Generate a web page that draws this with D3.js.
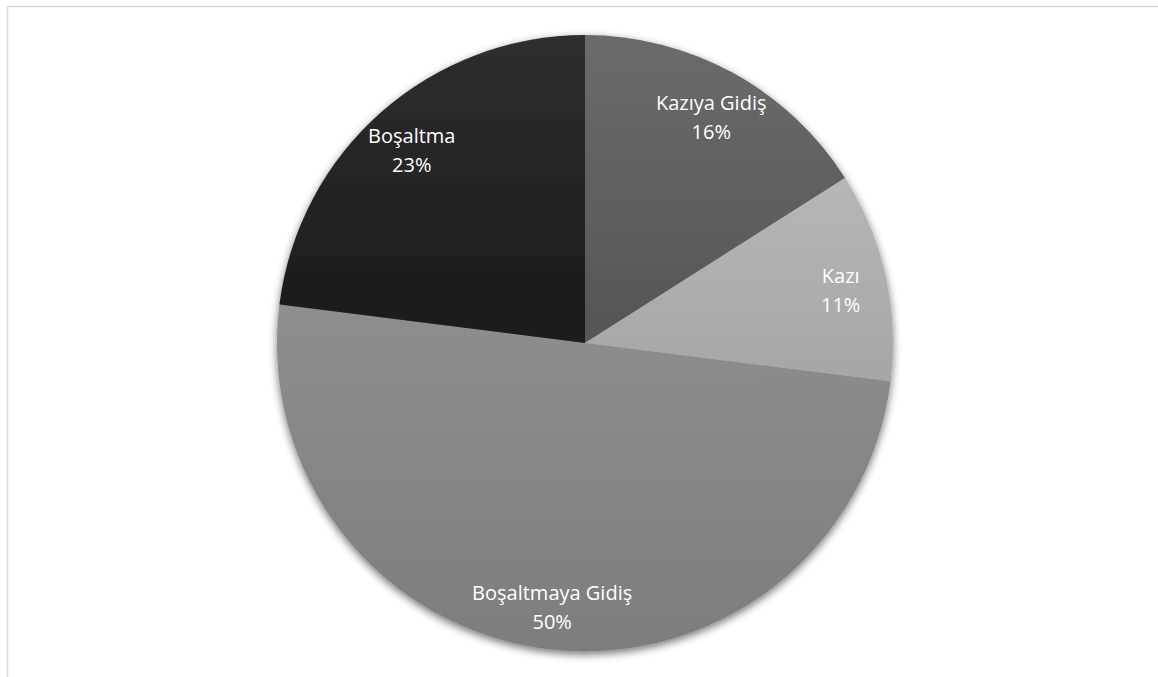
<!DOCTYPE html>
<html>
<head>
<meta charset="utf-8">
<script src="https://cdn.jsdelivr.net/npm/d3@7"></script>
<style>
  html, body { margin: 0; padding: 0; background: #fff; }
  svg { display: block; }
</style>
</head>
<body>
<svg id="chart" width="1158" height="677"></svg>
<script>
// Share of cycle time per operation
const categories = ["Kazıya Gidiş", "Kazı", "Boşaltmaya Gidiş", "Boşaltma"];
const values = [16, 11, 50, 23];
const topColors = ["#6b6b6b", "#b6b6b6", "#8e8e8e", "#2e2e2e"];
const bottomColors = ["#555555", "#a6a6a6", "#7d7d7d", "#1a1a1a"];

const W = 1158, H = 677;
const cx = 585, cy = 343, radius = 308;

const svg = d3.select("#chart");
const defs = svg.append("defs");

// chart area frame
svg.append("rect")
  .attr("x", 7.5).attr("y", 6.5)
  .attr("width", W + 10).attr("height", H + 10)
  .attr("fill", "#fff")
  .attr("stroke", "#d9d9d9")
  .attr("stroke-width", 1.5);

// soft shadow under the pie
const shadow = defs.append("filter").attr("id", "pieShadow")
  .attr("x", "-10%").attr("y", "-10%").attr("width", "120%").attr("height", "120%");
shadow.append("feGaussianBlur").attr("in", "SourceAlpha").attr("stdDeviation", 4).attr("result", "blur");
shadow.append("feOffset").attr("in", "blur").attr("dx", 0).attr("dy", 3).attr("result", "off");
shadow.append("feComponentTransfer").attr("in", "off").attr("result", "soft")
  .append("feFuncA").attr("type", "linear").attr("slope", 0.55);
const merge = shadow.append("feMerge");
merge.append("feMergeNode").attr("in", "soft");
merge.append("feMergeNode").attr("in", "SourceGraphic");

// vertical gradient per slice
categories.forEach((c, i) => {
  const g = defs.append("linearGradient").attr("id", "grad" + i)
    .attr("x1", 0).attr("y1", 0).attr("x2", 0).attr("y2", 1);
  g.append("stop").attr("offset", "0%").attr("stop-color", topColors[i]);
  g.append("stop").attr("offset", "100%").attr("stop-color", bottomColors[i]);
});

const data = categories.map((c, i) => ({ name: c, value: values[i], idx: i }));

const pie = d3.pie().value(d => d.value).sort(null);
const arcs = pie(data);
const arc = d3.arc().innerRadius(0).outerRadius(radius);
const labelArc = d3.arc().innerRadius(262).outerRadius(262);

const g = svg.append("g").attr("transform", `translate(${cx},${cy})`);

g.append("g").attr("filter", "url(#pieShadow)")
  .selectAll("path")
  .data(arcs)
  .join("path")
  .attr("d", arc)
  .attr("fill", d => `url(#grad${d.data.idx})`);

const total = d3.sum(values);
const labels = g.selectAll("text.lbl")
  .data(arcs)
  .join("text")
  .attr("class", "lbl")
  .attr("transform", d => `translate(${labelArc.centroid(d)})`)
  .attr("text-anchor", "middle")
  .attr("fill", "#ffffff")
  .style("font-family", "'Open Sans', sans-serif")
  .style("font-size", "20px");

labels.append("tspan")
  .attr("x", 0).attr("dy", "-0.15em")
  .text(d => d.data.name);
labels.append("tspan")
  .attr("x", 0).attr("dy", "1.45em")
  .text(d => Math.round(d.data.value / total * 100) + "%");
</script>
</body>
</html>
